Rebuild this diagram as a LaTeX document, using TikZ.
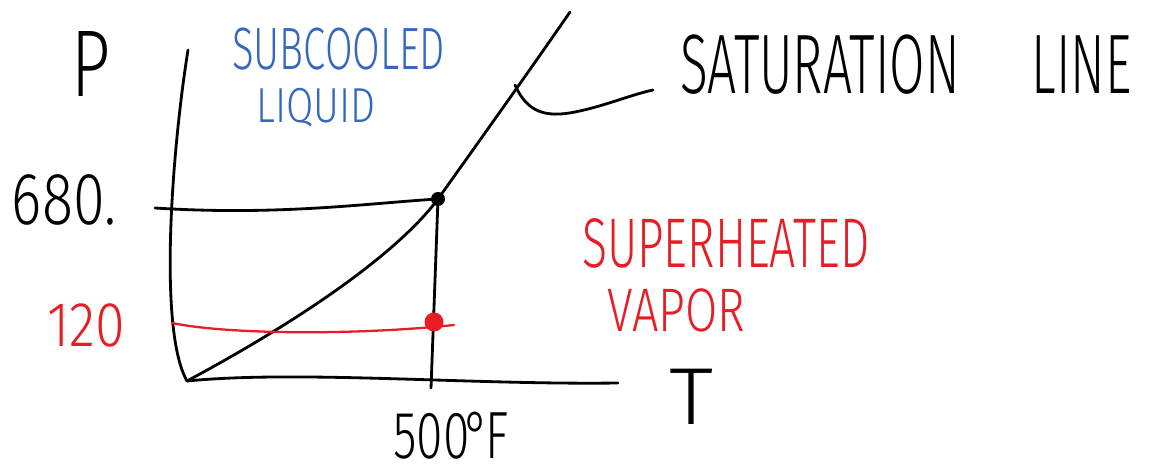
\documentclass[tikz,border=0pt]{standalone}
\usepackage{fontspec}
\setmainfont{Fira Sans Light}
\usetikzlibrary{positioning,calc}
\definecolor{penblue}{RGB}{52,104,190}
\definecolor{penred}{RGB}{232,28,36}
\tikzset{
  hand/.style={inner sep=0pt, transform shape},
  pen/.style={line width=1.6pt, line cap=round, line join=round},
  redpen/.style={pen, penred, line width=1.3pt},
}
\newcommand{\fs}[1]{\fontsize{#1}{#1}\selectfont}

\begin{document}
\begin{tikzpicture}[x=0.02cm,y=-0.02cm]
  \useasboundingbox (0,0) rectangle (1168,475); % 画像全体の枠
  \coordinate (O) at (187,381); % 原点
  \coordinate (ytop) at (188,50); % P軸の上端
  \coordinate (xend) at (618,383); % T軸の右端
  \coordinate (satpt) at (438,199); % 飽和点（680, 500°F）
  \coordinate (suppt) at (434,322); % 過熱点（120, 500°F）
  \coordinate (vbot) at (431,388); % 500°F の線の下端
  \coordinate (sattop) at (570,12); % 飽和線の上端
  \coordinate (lead) at (515,85); % 引き出し線の始点
  \coordinate (leadend) at (653,90); % 引き出し線の終点
  \coordinate (hi) at (155,208); % 680 の線の左端
  \coordinate (lo) at (172,323); % 120 の線の左端
  \coordinate (loend) at (454,325); % 120 の線の右端

  \draw[pen] (ytop) .. controls (172,150) and (158,330) .. (O); % P軸
  \draw[pen] (O) .. controls (300,370) and (470,385) .. (xend); % T軸
  \draw[pen] (O) .. controls (310,315) and (400,250) .. (satpt)
    .. controls (480,140) and (530,70) .. (sattop); % 飽和線
  \draw[pen] (hi) .. controls (280,216) and (370,203) .. (satpt); % 680 の線
  \draw[pen] (satpt) -- (vbot); % 500°F の線
  \draw[pen] (lead) .. controls (527,112) and (545,118) .. (575,112)
    .. controls (605,106) and (630,95) .. (leadend); % 引き出し線
  \draw[redpen] (lo) .. controls (230,335) and (360,335) .. (loend); % 120 の線
  \fill (satpt) circle (7); % 飽和点
  \fill[penred] (suppt) circle (9.5); % 過熱点

  \node[hand, font=\fs{54}, xscale=0.72] (plabel) at (91,64) {P}; % 縦軸ラベル
  \node[hand, font=\fs{46}, xscale=1.1] (tlabel) at (691,397) {T}; % 横軸ラベル
  \node[hand, font=\fs{42}, xscale=0.78] (hilabel) at (64,200) {680.}; % 680
  \node[hand, font=\fs{36}, xscale=0.85, text=penred] (lolabel) at (86,325) {120}; % 120
  \node[hand, font=\fs{38}, xscale=0.72] (tval) at (451,436) {500\kern-0.12em°\kern-0.08em F}; % 500°F
  \node[hand, align=left, anchor=north west, xscale=0.67, text=penblue,
    font=\fontsize{34}{30}\selectfont] (subc) at (232,28)
    {SUBCOOLED\\\hspace{0.6em}\scalebox{1.2}[1]{\fontsize{28}{30}\selectfont LIQUID}}; % 過冷却液
  \node[hand, font=\fs{40}, xscale=0.66, text=penred] (suph) at (726,243) {SUPERHEATED}; % 過熱蒸気
  \node[hand, font=\fs{35}, xscale=0.76, text=penred] (vap) at (676,310) {VAPOR};
  \node[hand, font=\fs{48}, xscale=0.61] (satlabel) at (906,65) {SATURATION\hspace{1.4em}LINE}; % 飽和線ラベル
\end{tikzpicture}
\end{document}
